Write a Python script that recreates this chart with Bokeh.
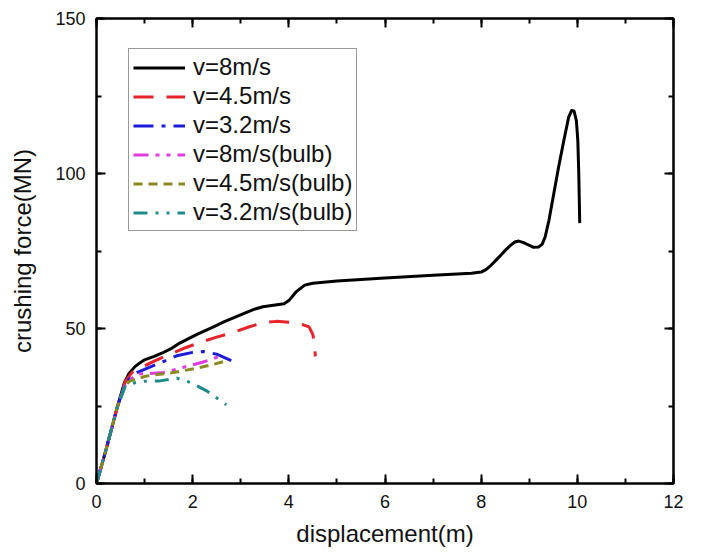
from bokeh.plotting import figure
from bokeh.models import Range1d, SingleIntervalTicker, LinearAxis, Legend
from bokeh.embed import file_html
from bokeh.resources import INLINE

# ---- data ----
x_v8 = [0, 0.2, 0.43, 0.58, 0.68, 0.8, 0.9, 1.0, 1.2, 1.37, 1.55, 1.73, 2.1, 2.4, 2.66, 3.12, 3.3, 3.46,
        3.68, 3.9, 4.0, 4.15, 4.33, 4.5, 5.0, 6.0, 7.0, 7.8, 8.0, 8.1, 8.2, 8.3, 8.4, 8.5, 8.61,
        8.7, 8.78, 8.87, 8.96, 9.09, 9.2, 9.27, 9.33, 9.41, 9.51, 9.61, 9.72, 9.82, 9.88, 9.93,
        9.98, 10.01, 10.03, 10.04, 10.05]
y_v8 = [0, 11, 24.5, 32.5, 35.6, 37.7, 38.9, 39.9, 41.0, 42.1, 43.5, 45.3, 48.2, 50.3, 52.2, 55.2, 56.3, 57.0,
        57.5, 58.0, 59.0, 61.8, 64.0, 64.6, 65.3, 66.3, 67.2, 67.8, 68.2, 69.0, 70.3, 71.9, 73.5, 75.2, 76.8,
        77.9, 78.2, 77.8, 77.1, 76.2, 76.3, 77.2, 79.5, 84.9, 93.5, 102.0, 110.7, 118.2, 120.3, 120.2,
        117.1, 110.7, 100.0, 92.0, 84.0]

x_v45 = [0, 0.2, 0.43, 0.6, 0.75, 0.98, 1.2, 1.53, 1.85, 2.15, 2.5, 2.84, 3.15, 3.46, 3.74, 4.08,
         4.3, 4.42, 4.5, 4.54, 4.55]
y_v45 = [0, 11, 24.5, 33.0, 36.0, 37.8, 39.5, 41.7, 43.8, 45.5, 47.2, 48.7, 50.4, 51.9, 52.3, 51.9,
         51.2, 50.5, 48.0, 44.5, 41.0]

x_v32 = [0, 0.2, 0.43, 0.6, 0.84, 1.26, 1.67, 2.0, 2.22, 2.5, 2.81]
y_v32 = [0, 11, 24.5, 32.5, 35.8, 38.5, 41.2, 42.3, 42.6, 41.7, 39.6]

x_v8b = [0, 0.2, 0.43, 0.6, 0.84, 1.1, 1.39, 1.65, 1.93, 2.2, 2.41, 2.57]
y_v8b = [0, 11, 24.5, 32.0, 35.3, 35.5, 35.8, 36.8, 38.0, 39.1, 40.1, 41.2]

x_v45b = [0, 0.2, 0.43, 0.6, 0.7, 1.05, 1.6, 2.15, 2.45, 2.7]
y_v45b = [0, 11, 24.5, 31.8, 33.1, 34.7, 35.8, 37.4, 38.5, 39.6]

x_v32b = [0, 0.2, 0.43, 0.6, 0.8, 1.05, 1.32, 1.67, 1.95, 2.29, 2.7]
y_v32b = [0, 11, 24.5, 31.5, 32.5, 33.1, 33.1, 34.0, 32.6, 29.9, 25.4]

labels = ["v=8m/s", "v=4.5m/s", "v=3.2m/s", "v=8m/s(bulb)", "v=4.5m/s(bulb)", "v=3.2m/s(bulb)"]
x_label = "displacement(m)"
y_label = "crushing force(MN)"

FONT = "Liberation Sans"

p = figure(width=702, height=554, output_backend="svg", toolbar_location=None,
           x_range=Range1d(0, 12), y_range=Range1d(0, 150),
           min_border_left=96, min_border_right=29, min_border_top=18, min_border_bottom=71)
p.background_fill_color = "white"
p.border_fill_color = "white"
p.outline_line_color = "black"
p.outline_line_width = 2
p.grid.visible = False

xt = SingleIntervalTicker(interval=2, num_minor_ticks=2)
yt = SingleIntervalTicker(interval=50, num_minor_ticks=2)

def style_axis(ax, show_labels):
    ax.axis_line_color = "black"
    ax.axis_line_width = 2
    ax.major_tick_in = 9
    ax.major_tick_out = 0
    ax.minor_tick_in = 5
    ax.minor_tick_out = 0
    ax.major_tick_line_width = 2
    ax.minor_tick_line_width = 2
    ax.major_tick_line_color = "black"
    ax.minor_tick_line_color = "black"
    if show_labels:
        ax.major_label_text_font = FONT
        ax.major_label_text_font_size = "18px"
        ax.major_label_text_color = "#111111"
        ax.axis_label_text_font = FONT
        ax.axis_label_text_font_size = "24px"
        ax.axis_label_text_font_style = "normal"
        ax.axis_label_text_color = "#111111"
    else:
        ax.major_label_text_font_size = "1px"
        ax.major_label_text_color = None
        ax.major_label_standoff = 0

p.xaxis.ticker = xt
p.yaxis.ticker = yt
style_axis(p.xaxis[0], True)
style_axis(p.yaxis[0], True)
p.xaxis.axis_label = x_label
p.yaxis.axis_label = y_label
p.xaxis.major_label_standoff = 11
p.xaxis.axis_label_standoff = 9
p.yaxis.major_label_standoff = 11
p.yaxis.axis_label_standoff = 16

top = LinearAxis(ticker=xt)
style_axis(top, False)
right = LinearAxis(ticker=yt)
style_axis(right, False)
p.add_layout(top, "above")
p.add_layout(right, "right")

series = [
    (x_v8, y_v8, "black", "solid"),
    (x_v45, y_v45, "#e5232a", "20 13"),
    (x_v32, y_v32, "#1c1cd6", "20 8 4 8"),
    (x_v8b, y_v8b, "#e23be2", "15 7 4 7 4 7"),
    (x_v45b, y_v45b, "#8a8a22", "9 6"),
    (x_v32b, y_v32b, "#1f8a8a", "14 8 3 8 3 8"),
]

items = []
for (xs, ys, c, d), lab in zip(series, labels):
    r = p.line(xs, ys, line_color=c, line_width=3, line_dash=d, line_join="round")
    items.append((lab, [r]))

legend = Legend(items=items, location=(32, 252))
legend.label_text_font = FONT
legend.label_text_font_size = "24px"
legend.label_text_color = "#111111"
legend.glyph_width = 52
legend.glyph_height = 25
legend.label_height = 25
legend.label_standoff = 8
legend.spacing = 1
legend.padding = 4
legend.margin = 0
legend.border_line_color = "#333333"
legend.border_line_width = 1
legend.background_fill_alpha = 1
p.add_layout(legend, "center")

open("out.html", "w").write(file_html(p, INLINE))
